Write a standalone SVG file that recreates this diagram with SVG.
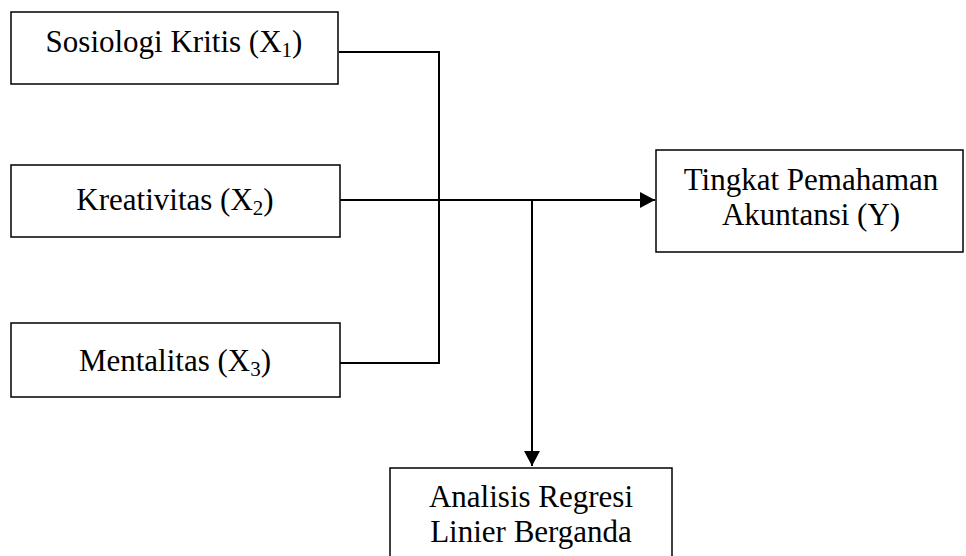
<svg xmlns="http://www.w3.org/2000/svg" width="966" height="556" viewBox="0 0 966 556">
<style>
.box{fill:#fff;stroke:#000;stroke-width:1.5}
.t{font-family:"Liberation Serif","Times New Roman",serif;font-size:31px;fill:#000;text-anchor:middle}
.sub{font-size:21px}
.ln{fill:none;stroke:#000;stroke-width:2}
</style>
<defs>
<marker id="ah" markerUnits="userSpaceOnUse" markerWidth="16" markerHeight="16" refX="15" refY="8" orient="auto">
<path d="M0,0 L15,8 L0,16 Z" fill="#000"/>
</marker>
</defs>
<rect width="966" height="556" fill="#fff"/>
<g id="connectors">
<polyline class="ln" points="339,52 439,52 439,363 340,363"/>
<line class="ln" x1="340" y1="200" x2="655" y2="200" marker-end="url(#ah)"/>
<line class="ln" x1="532" y1="200" x2="532" y2="466" marker-end="url(#ah)"/>
</g>
<g id="x1">
<rect class="box" x="11" y="12" width="327" height="72"/>
<text class="t" x="174" y="52">Sosiologi Kritis (X<tspan class="sub" dy="5">1</tspan><tspan dy="-5">)</tspan></text>
</g>
<g id="x2">
<rect class="box" x="11" y="165" width="329" height="72"/>
<text class="t" x="175" y="210">Kreativitas (X<tspan class="sub" dy="5">2</tspan><tspan dy="-5">)</tspan></text>
</g>
<g id="x3">
<rect class="box" x="11" y="323" width="329" height="74"/>
<text class="t" x="175" y="371">Mentalitas (X<tspan class="sub" dy="5">3</tspan><tspan dy="-5">)</tspan></text>
</g>
<g id="y">
<rect class="box" x="656" y="150" width="307" height="102"/>
<text class="t" x="811" y="190">Tingkat Pemahaman</text>
<text class="t" x="811" y="225">Akuntansi (Y)</text>
</g>
<g id="analisis">
<rect class="box" x="390" y="468" width="282" height="100"/>
<text class="t" x="531" y="507">Analisis Regresi</text>
<text class="t" x="531" y="542">Linier Berganda</text>
</g>
</svg>
